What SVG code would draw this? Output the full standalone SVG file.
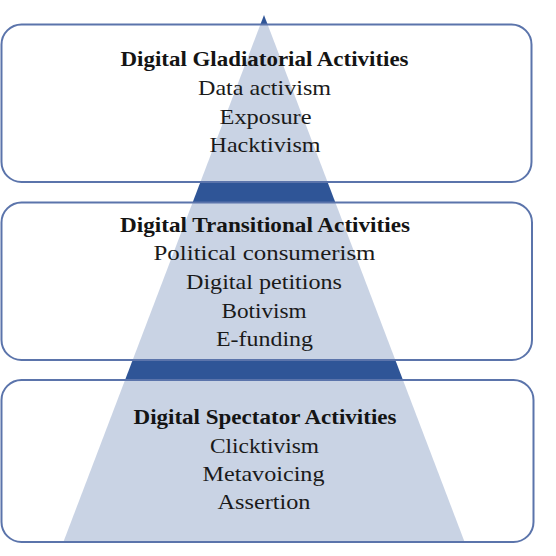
<svg xmlns="http://www.w3.org/2000/svg" width="556" height="556" viewBox="0 0 556 556">
  <style>
    .box { fill: #ffffff; fill-opacity: 0.74; stroke: #5b74ab; stroke-width: 2; }
    .title { font-family: "Liberation Serif", "Times New Roman", serif; font-size: 21px; font-weight: bold; fill: #141414; text-anchor: middle; }
    .item { font-family: "Liberation Serif", "Times New Roman", serif; font-size: 21px; fill: #1a1a1a; text-anchor: middle; }
  </style>
  <rect width="556" height="556" fill="#ffffff"/>
  <g id="pyramid">
    <polygon points="264,15 465,543 63,543" fill="#2f5597"/>
  </g>
  <g id="gladiatorial">
    <rect class="box" x="1.5" y="24.5" width="530" height="157.5" rx="20" ry="20"/>
    <text class="title" x="264.5" y="66" textLength="288" lengthAdjust="spacingAndGlyphs">Digital Gladiatorial Activities</text>
    <text class="item" x="264.5" y="95" textLength="133" lengthAdjust="spacingAndGlyphs">Data activism</text>
    <text class="item" x="265.5" y="123.5" textLength="92" lengthAdjust="spacingAndGlyphs">Exposure</text>
    <text class="item" x="265" y="152" textLength="111" lengthAdjust="spacingAndGlyphs">Hacktivism</text>
  </g>
  <g id="transitional">
    <rect class="box" x="1.5" y="202.5" width="530.5" height="157.5" rx="20" ry="20"/>
    <text class="title" x="265" y="231.5" textLength="290" lengthAdjust="spacingAndGlyphs">Digital Transitional Activities</text>
    <text class="item" x="264.5" y="260" textLength="222" lengthAdjust="spacingAndGlyphs">Political consumerism</text>
    <text class="item" x="264" y="289" textLength="156" lengthAdjust="spacingAndGlyphs">Digital petitions</text>
    <text class="item" x="264" y="317.5" textLength="85" lengthAdjust="spacingAndGlyphs">Botivism</text>
    <text class="item" x="264.5" y="346" textLength="97" lengthAdjust="spacingAndGlyphs">E-funding</text>
  </g>
  <g id="spectator">
    <rect class="box" x="1.5" y="380" width="532" height="162" rx="20" ry="20"/>
    <text class="title" x="265" y="423.5" textLength="263" lengthAdjust="spacingAndGlyphs">Digital Spectator Activities</text>
    <text class="item" x="264.5" y="452.5" textLength="109" lengthAdjust="spacingAndGlyphs">Clicktivism</text>
    <text class="item" x="263.5" y="481" textLength="122" lengthAdjust="spacingAndGlyphs">Metavoicing</text>
    <text class="item" x="264" y="509" textLength="93" lengthAdjust="spacingAndGlyphs">Assertion</text>
  </g>
</svg>
